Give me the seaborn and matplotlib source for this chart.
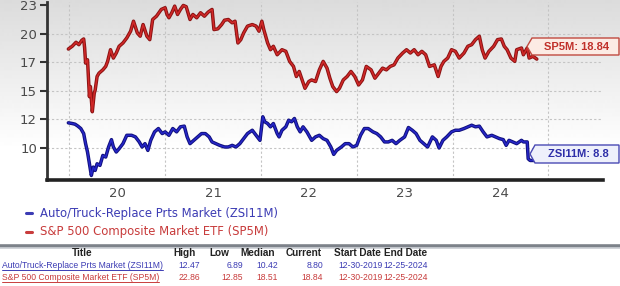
import numpy as np
import pandas as pd
import matplotlib
matplotlib.use("Agg")
import matplotlib.pyplot as plt
import matplotlib.patheffects as pe
from matplotlib.patches import Polygon
from matplotlib.lines import Line2D
import seaborn as sns

# ---------------- data ----------------
red_year = [2019.99, 2020.03, 2020.07, 2020.10, 2020.13, 2020.15, 2020.16, 2020.17, 2020.19, 2020.21,
            2020.22, 2020.24, 2020.26, 2020.27, 2020.29, 2020.31, 2020.35, 2020.38, 2020.40, 2020.43,
            2020.46, 2020.49, 2020.52, 2020.56, 2020.60, 2020.64, 2020.67, 2020.71, 2020.74, 2020.77,
            2020.81, 2020.84, 2020.87, 2020.91, 2020.96, 2021.00, 2021.02, 2021.04, 2021.07, 2021.10,
            2021.13, 2021.16, 2021.19, 2021.22, 2021.26, 2021.29, 2021.33, 2021.37, 2021.41, 2021.45,
            2021.49, 2021.51, 2021.55, 2021.59, 2021.62, 2021.66, 2021.70, 2021.73, 2021.76, 2021.79,
            2021.82, 2021.86, 2021.91, 2021.95, 2021.98, 2022.01, 2022.03, 2022.07, 2022.10, 2022.13,
            2022.17, 2022.22, 2022.26, 2022.30, 2022.34, 2022.37, 2022.40, 2022.43, 2022.46, 2022.50,
            2022.53, 2022.57, 2022.61, 2022.65, 2022.69, 2022.72, 2022.75, 2022.79, 2022.82, 2022.86,
            2022.90, 2022.94, 2022.98, 2023.02, 2023.06, 2023.10, 2023.15, 2023.19, 2023.23, 2023.27,
            2023.31, 2023.35, 2023.39, 2023.43, 2023.48, 2023.52, 2023.56, 2023.60, 2023.64, 2023.68,
            2023.72, 2023.76, 2023.81, 2023.85, 2023.88, 2023.91, 2023.95, 2023.99, 2024.03, 2024.07,
            2024.12, 2024.16, 2024.20, 2024.24, 2024.28, 2024.31, 2024.34, 2024.38, 2024.43, 2024.47,
            2024.51, 2024.54, 2024.57, 2024.61, 2024.65, 2024.67, 2024.72, 2024.74, 2024.78, 2024.80,
            2024.84, 2024.88]
red_value = [18.65, 18.89, 19.24, 19.03, 19.41, 19.53, 18.74, 17.42, 17.71, 14.49,
             15.37, 13.17, 14.78, 15.07, 16.25, 16.54, 16.83, 17.13, 17.57, 18.59,
             17.86, 18.30, 18.89, 19.18, 19.62, 20.21, 21.08, 20.06, 19.77, 20.79,
             19.77, 19.47, 21.23, 21.52, 22.11, 22.26, 21.67, 21.38, 21.82, 22.40,
             21.67, 22.11, 22.46, 22.35, 21.23, 21.67, 21.38, 21.82, 21.52, 21.88,
             22.11, 20.35, 20.41, 20.79, 21.17, 21.23, 20.94, 21.08, 19.18, 19.47,
             20.06, 20.65, 20.79, 20.65, 20.21, 21.08, 20.35, 19.18, 18.59, 18.89,
             18.15, 18.59, 18.45, 17.57, 17.13, 16.25, 16.69, 15.95, 15.22, 15.81,
             15.95, 15.81, 16.83, 17.57, 16.98, 16.10, 15.37, 14.93, 15.22, 15.95,
             16.25, 16.69, 16.25, 15.51, 15.95, 17.13, 16.83, 16.10, 16.54, 16.98,
             16.83, 17.13, 17.27, 17.86, 18.30, 18.59, 18.30, 18.59, 18.15, 18.45,
             18.15, 17.13, 17.27, 16.25, 17.13, 17.57, 17.86, 18.59, 18.45, 17.86,
             18.30, 18.89, 19.03, 19.47, 19.77, 18.59, 17.86, 18.45, 18.89, 19.47,
             19.53, 18.89, 18.59, 17.86, 17.57, 18.59, 18.74, 18.15, 18.74, 17.86,
             18.01, 17.77]

blue_year = [2019.99, 2020.03, 2020.06, 2020.09, 2020.12, 2020.15, 2020.17, 2020.19, 2020.21, 2020.23,
             2020.25, 2020.27, 2020.29, 2020.32, 2020.35, 2020.38, 2020.41, 2020.44, 2020.46, 2020.49,
             2020.52, 2020.56, 2020.60, 2020.65, 2020.69, 2020.73, 2020.76, 2020.79, 2020.82, 2020.85,
             2020.89, 2020.93, 2020.97, 2021.00, 2021.04, 2021.08, 2021.12, 2021.16, 2021.20, 2021.23,
             2021.26, 2021.30, 2021.34, 2021.38, 2021.42, 2021.46, 2021.49, 2021.53, 2021.57, 2021.62,
             2021.66, 2021.70, 2021.74, 2021.78, 2021.82, 2021.86, 2021.91, 2021.95, 2021.99, 2022.02,
             2022.04, 2022.07, 2022.10, 2022.13, 2022.17, 2022.19, 2022.22, 2022.26, 2022.29, 2022.32,
             2022.35, 2022.38, 2022.41, 2022.44, 2022.48, 2022.53, 2022.57, 2022.61, 2022.65, 2022.69,
             2022.73, 2022.76, 2022.79, 2022.84, 2022.88, 2022.92, 2022.96, 2023.00, 2023.04, 2023.08,
             2023.12, 2023.17, 2023.21, 2023.25, 2023.29, 2023.33, 2023.37, 2023.41, 2023.45, 2023.50,
             2023.54, 2023.58, 2023.62, 2023.66, 2023.70, 2023.74, 2023.79, 2023.83, 2023.86, 2023.90,
             2023.94, 2023.99, 2024.03, 2024.07, 2024.12, 2024.16, 2024.20, 2024.24, 2024.28, 2024.32,
             2024.36, 2024.41, 2024.45, 2024.49, 2024.53, 2024.56, 2024.59, 2024.63, 2024.67, 2024.72,
             2024.74, 2024.78, 2024.79, 2024.81, 2024.85]
blue_value = [12.20, 12.14, 12.08, 11.91, 11.70, 11.26, 10.38, 9.65, 8.62, 7.60,
              8.33, 8.04, 8.62, 8.48, 9.35, 9.21, 10.09, 10.73, 10.09, 9.65,
              9.94, 10.38, 11.11, 11.11, 10.97, 10.53, 10.09, 10.38, 9.79, 10.67,
              11.41, 11.70, 11.26, 11.41, 11.11, 11.70, 11.41, 11.85, 11.91, 10.97,
              10.38, 10.67, 10.97, 11.26, 11.26, 10.97, 10.53, 10.38, 10.23, 10.09,
              10.09, 10.23, 10.09, 10.38, 10.82, 11.26, 11.55, 11.11, 10.67, 12.73,
              12.29, 12.14, 11.85, 12.14, 11.26, 10.97, 11.55, 11.85, 12.43, 12.29,
              12.58, 11.85, 11.41, 11.85, 11.41, 10.67, 10.97, 11.11, 10.82, 10.67,
              10.09, 9.44, 9.79, 10.09, 10.38, 10.38, 10.09, 10.23, 11.11, 11.70,
              11.70, 11.41, 11.26, 10.97, 10.53, 10.53, 10.67, 10.38, 10.67, 10.97,
              11.79, 11.55, 11.26, 10.67, 10.38, 10.09, 10.97, 10.67, 10.00, 10.67,
              10.97, 11.41, 11.55, 11.55, 11.70, 11.85, 11.99, 11.85, 11.91, 11.41,
              10.97, 11.11, 10.97, 10.82, 10.73, 10.23, 10.67, 10.53, 10.38, 10.67,
              10.53, 10.53, 9.06, 8.91, 8.91]

ytick_vals = [10, 12.5, 15, 17.5, 20, 22.5]
ytick_labels = ["10", "12", "15", "17", "20", "23"]
year_ticks = [2020, 2021, 2022, 2023, 2024, 2025]
year_label_pos = [2020.5, 2021.5, 2022.5, 2023.5, 2024.5]
year_labels = ["20", "21", "22", "23", "24"]

series_names = ["Auto/Truck-Replace Prts Market (ZSI11M)", "S&P 500 Composite Market ETF (SP5M)"]
tag_labels = ["ZSI11M: 8.8", "SP5M: 18.84"]

table_header = ["Title", "High", "Low", "Median", "Current", "Start Date", "End Date"]
table_high = ["12.47", "22.86"]
table_low = ["6.89", "12.85"]
table_median = ["10.42", "18.51"]
table_current = ["8.80", "18.84"]
table_start = ["12-30-2019", "12-30-2019"]
table_end = ["12-25-2024", "12-25-2024"]

# ---------------- styling ----------------
sns.set_theme(style="white")
plt.rcParams["font.family"] = ["DejaVu Sans"]

W, H = 620, 286
fig = plt.figure(figsize=(W / 100, H / 100), dpi=100)
fig.patch.set_facecolor("white")


def fx(x):
    return x / W


def fy(y):
    return 1 - y / H


BLUE_CORE, BLUE_EDGE = "#2626c8", "#10107c"
RED_CORE, RED_EDGE = "#d02828", "#8a1212"
BLUE_TXT, RED_TXT = "#3c3cb4", "#c83c3c"

# background gradient behind plot region
gax = fig.add_axes([0, fy(181), 1, 181 / H], zorder=-5)
rows = np.arange(181)
g = 0.86 + 0.14 * np.clip(rows / 150.0, 0, 1)
gax.imshow(g[:, None], cmap="gray", vmin=0, vmax=1, aspect="auto", interpolation="bilinear")
gax.axis("off")

# main axes
ax = fig.add_axes([fx(46.7), fy(180), fx(603) - fx(46.7), (180 - 2) / H])
ax.patch.set_alpha(0)

df_red = pd.DataFrame({"year": red_year, "value": red_value})
df_blue = pd.DataFrame({"year": blue_year, "value": blue_value})

sns.lineplot(data=df_red, x="year", y="value", ax=ax, color=RED_CORE, lw=1.1,
             estimator=None, sort=False, legend=False)
ax.lines[-1].set_path_effects([pe.Stroke(linewidth=2.5, foreground=RED_EDGE), pe.Normal()])
sns.lineplot(data=df_blue, x="year", y="value", ax=ax, color=BLUE_CORE, lw=1.1,
             estimator=None, sort=False, legend=False)
ax.lines[-1].set_path_effects([pe.Stroke(linewidth=2.5, foreground=BLUE_EDGE), pe.Normal()])

ax.set_xlim(2019.764, 2025.571)
ax.set_ylim(7.203, 22.76)
ax.set_xlabel("")
ax.set_ylabel("")

for s in ["top", "right"]:
    ax.spines[s].set_visible(False)
ax.spines["left"].set_color("#333333")
ax.spines["left"].set_linewidth(2.0)
ax.spines["bottom"].set_color("#222222")
ax.spines["bottom"].set_linewidth(2.6)

ax.set_yticks(ytick_vals, ytick_labels)
ax.tick_params(axis="y", length=5, width=1.5, color="#333333", pad=2,
               labelsize=9.5, labelcolor="#4a4a4a", left=True)
ax.set_xticks(year_ticks)
ax.set_xticklabels([""] * len(year_ticks))
ax.set_xticks(year_label_pos, minor=True)
ax.set_xticklabels(year_labels, minor=True)
ax.tick_params(axis="x", which="both", length=0, pad=5, labelsize=9.5, labelcolor="#4a4a4a")

ax.grid(False)
for t in year_ticks:
    ax.axvline(t, color="#c4c4c4", lw=0.8, ls=(0, (2, 2)), zorder=0)
for v in ytick_vals[:-1]:
    ax.axhline(v, color="#c4c4c4", lw=0.8, ls=(0, (2, 2)), zorder=0)


# value tags at right
def tag(x0, y0, x1, y1, text, fc, ec, tc):
    yc = (y0 + y1) / 2
    pts = [(fx(x0), fy(yc)), (fx(x0 + 5), fy(y0)), (fx(x1), fy(y0)),
           (fx(x1), fy(y1)), (fx(x0 + 5), fy(y1))]
    fig.patches.append(Polygon(pts, closed=True, transform=fig.transFigure,
                               facecolor=fc, edgecolor=ec, lw=1.0, zorder=5))
    fig.text(fx((x0 + 5 + x1) / 2 + 1), fy(yc), text, ha="center", va="center",
             fontsize=8, fontweight="bold", color=tc, family=["Liberation Sans", "DejaVu Sans"],
             zorder=6)


tag(527, 38, 619, 55, tag_labels[1], "#fcebe4", "#c04a40", "#c0302a")
tag(530, 145, 619, 163, tag_labels[0], "#eef0fb", "#4a4ab4", "#2e2ea8")

# legend
leg_y = [213, 232]
leg_col = [BLUE_TXT, RED_TXT]
for name, yy, c in zip(series_names, leg_y, leg_col):
    fig.lines.append(Line2D([fx(26), fx(32)], [fy(yy), fy(yy)], transform=fig.transFigure,
                            color=c, lw=2.2))
    fig.text(fx(40), fy(yy), name, ha="left", va="center", fontsize=8.4, color=c)

# separator
fig.lines.append(Line2D([0, 1], [fy(245.5), fy(245.5)], transform=fig.transFigure,
                        color="#7d828a", lw=2.6))
fig.lines.append(Line2D([0, 1], [fy(248.3), fy(248.3)], transform=fig.transFigure,
                        color="#c9cdd3", lw=1.2))

# table
tfam = ["Liberation Sans", "DejaVu Sans"]
hdr_x = [82, 184, 219, 258, 304, 357, 406]
for h, xx in zip(table_header, hdr_x):
    fig.text(fx(xx), fy(253), h, ha="center", va="center", fontsize=7.2,
             fontweight="bold", color="#222222", family=tfam)

row_y = [266, 278]
row_col = [BLUE_TXT, RED_TXT]
name_texts = []
for i in range(2):
    yy = row_y[i]
    c = row_col[i]
    t = fig.text(fx(2), fy(yy), series_names[i], ha="left", va="center", fontsize=6.2,
                 color=c, family=tfam)
    name_texts.append((t, c, yy))
    for vals, xr in zip([table_high, table_low, table_median, table_current, table_start, table_end],
                        [200, 243, 278, 323, 383, 428]):
        fig.text(fx(xr), fy(yy), vals[i], ha="right", va="center", fontsize=6.2,
                 color=c, family=tfam)

fig.canvas.draw()
r = fig.canvas.get_renderer()
for t, c, yy in name_texts:
    bb = t.get_window_extent(renderer=r)
    x0, x1 = bb.x0 / W, bb.x1 / W
    fig.lines.append(Line2D([x0, x1], [fy(yy + 4.3), fy(yy + 4.3)], transform=fig.transFigure,
                            color=c, lw=0.7))

fig.savefig("out.png", dpi=100)
